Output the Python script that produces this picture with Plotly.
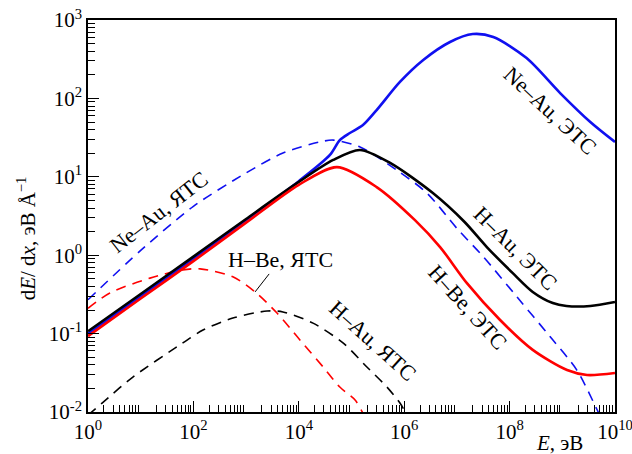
import numpy as np
import plotly.graph_objects as go

# Energy (eV) and stopping power dE/dx (eV/Å) for each curve
# Electronic stopping (ЭТС)
E_hau_e = [1, 1e1, 1e2, 1e3, 1e4, 4.5e4, 1.45e5, 5.4e5, 3.5e6, 1.4e7, 3.7e7, 1.15e8, 2.75e8, 6.6e8, 1.2e9, 3.4e9, 1e10]
S_hau_e = [0.107, 0.32, 0.96, 2.9, 8.6, 16.4, 22.0, 15.0, 6.2, 2.65, 1.27, 0.59, 0.34, 0.245, 0.225, 0.225, 0.253]

E_hbe_e = [1, 1e1, 1e2, 1e3, 1e4, 5.3e4, 3.0e5, 1.6e6, 4.8e6, 1.55e7, 6.6e7, 2.75e8, 1.23e9, 2.95e9, 1e10]
S_hbe_e = [0.093, 0.28, 0.84, 2.6, 7.9, 13.3, 7.4, 2.8, 1.27, 0.44, 0.149, 0.062, 0.0343, 0.0296, 0.0314]

E_neau_e = [1, 1e1, 1e2, 1e3, 1e4, 3.9e4, 6.0e4, 9.3e4, 1.65e5, 3.0e5, 8.3e5, 2.3e6, 7.4e6, 2.0e7, 4.9e7, 2.1e8, 9.1e8, 3.4e9, 1e10]
S_neau_e = [0.1, 0.3, 0.9, 2.8, 8.8, 19.0, 29.4, 36.2, 45.7, 71, 162, 309, 524, 662, 607, 327, 117, 50, 27.8]

# Nuclear stopping (ЯТС)
E_neau_n = [1, 1e1, 1e2, 1e3, 5e3, 2.5e4, 4.5e4, 1.45e5, 7.2e5, 2.7e6, 1e7, 3.2e7, 1.4e8, 5.9e8, 1.9e9, 4.6e9, 6.3e9]
S_neau_n = [0.27, 1.15, 4.2, 11.2, 20.1, 27.8, 29.4, 24.0, 12.2, 6.2, 2.2, 0.95, 0.29, 0.091, 0.034, 0.0106, 0.0069]

E_hbe_n = [1, 2.6, 15, 63, 134, 560, 1480, 3860, 1.05e4, 2.9e4, 6.0e4, 1.17e5, 1.6e5, 2.0e5]
S_hbe_n = [0.21, 0.33, 0.51, 0.65, 0.67, 0.53, 0.34, 0.183, 0.083, 0.0375, 0.0208, 0.0142, 0.0100, 0.0075]

E_hau_n = [1, 1.85, 7.1, 63, 152, 560, 2500, 5000, 1.86e4, 6.9e4, 1.96e5, 4.7e5, 8.3e5, 1.2e6]
S_hau_n = [0.0091, 0.013, 0.0279, 0.076, 0.111, 0.158, 0.194, 0.189, 0.136, 0.076, 0.0375, 0.0208, 0.013, 0.0085]

BLUE = "#1010f0"
RED = "#ff0000"
BLACK = "#000000"
FONT = "Liberation Serif"
DASH = "10px,7px"

fig = go.Figure()

def add(E, S, color, width, dash=None):
    fig.add_trace(go.Scatter(
        x=E, y=S, mode="lines",
        line=dict(color=color, width=width, dash=dash, shape="spline", smoothing=0.8),
        showlegend=False, hoverinfo="skip"))

# dashed nuclear curves
add(E_neau_n, S_neau_n, BLUE, 1.6, DASH)
add(E_hbe_n, S_hbe_n, RED, 1.6, DASH)
add(E_hau_n, S_hau_n, BLACK, 1.6, DASH)
# solid electronic curves
add(E_neau_e, S_neau_e, BLUE, 2.6)
add(E_hau_e, S_hau_e, BLACK, 2.6)
add(E_hbe_e, S_hbe_e, RED, 2.6)

# axes ticks: labelled decades on the main axes, the unlabelled
# odd decades of E get long ticks from an overlaid axis
x_major = [10.0 ** k for k in range(0, 11, 2)]
x_text = [f"10<sup>{k}</sup>" for k in range(0, 11, 2)]
x_odd = [10.0 ** k for k in range(1, 11, 2)]
x_minor = [m * 10.0 ** k for k in range(0, 10) for m in range(2, 10)]
y_major = [10.0 ** k for k in range(-2, 4)]
y_text = [f"10<sup>{k}</sup>" for k in range(-2, 4)]
y_minor = [m * 10.0 ** k for k in range(-2, 3) for m in range(2, 10)]

TICK_FONT = dict(family=FONT, size=21, color="black")
axis_common = dict(
    type="log", showgrid=False, zeroline=False, automargin=False,
    showline=True, linecolor="black", linewidth=1.5, mirror=True,
    ticks="inside", ticklen=11, tickwidth=1.2, tickcolor="black",
    tickfont=TICK_FONT, tickmode="array", ticklabeloverflow="allow",
)

fig.update_layout(
    xaxis=dict(
        **axis_common, range=[0, 10], tickvals=x_major, ticktext=x_text,
        minor=dict(tickmode="array", tickvals=x_minor, ticks="inside", ticklen=7,
                   tickwidth=1, tickcolor="black"),
    ),
    xaxis2=dict(
        type="log", range=[0, 10], overlaying="x", anchor="y", side="bottom",
        tickmode="array", tickvals=x_odd, ticks="inside", ticklen=11,
        tickwidth=1.2, tickcolor="black", showticklabels=False, automargin=False,
        showgrid=False, zeroline=False, showline=False,
    ),
    yaxis=dict(
        **axis_common, range=[-2, 3], tickvals=y_major, ticktext=y_text,
        minor=dict(tickmode="array", tickvals=y_minor, ticks="inside", ticklen=7,
                   tickwidth=1, tickcolor="black"),
    ),
)

lab_font = dict(family=FONT, size=22, color="black")

def label(text, lx, ly, angle):
    fig.add_annotation(x=lx, y=ly, xref="x", yref="y", text=text, showarrow=False,
                       textangle=angle, font=lab_font, xanchor="center", yanchor="middle")

label("Ne–Au, ЯТС", 1.33, 0.55, -38)
label("Ne–Au, ЭТС", 8.77, 1.85, 43)
label("H–Au, ЭТС", 8.12, 0.09, 45)
label("H–Be, ЭТС", 7.21, -0.67, 48)
label("H–Au, ЯТС", 5.40, -1.09, 42)

# leader from the H–Be nuclear curve to its label
i_lead = 6
fig.add_annotation(
    x=np.log10(E_hbe_n[i_lead]), y=np.log10(S_hbe_n[i_lead]), xref="x", yref="y",
    text="H–Be, ЯТС", font=lab_font, showarrow=True, arrowhead=0,
    arrowwidth=1, arrowcolor="black", ax=25, ay=-32, standoff=0,
)

# axis titles
fig.add_annotation(
    x=-0.115, y=0.444, xref="paper", yref="paper",
    text="d<i>E</i>/ d<i>x</i>, эВ Å<sup>−1</sup>", textangle=-90, showarrow=False,
    font=dict(family=FONT, size=21, color="black"), xanchor="center", yanchor="middle",
)
fig.add_annotation(
    x=0.895, y=-0.078, xref="paper", yref="paper",
    text="<i>E</i>, эВ", showarrow=False,
    font=dict(family=FONT, size=21, color="black"), xanchor="center", yanchor="middle",
)

fig.update_layout(
    width=632, height=454,
    margin=dict(l=88, r=17, t=20, b=42),
    paper_bgcolor="white", plot_bgcolor="white",
)

fig.write_html("out.html")
